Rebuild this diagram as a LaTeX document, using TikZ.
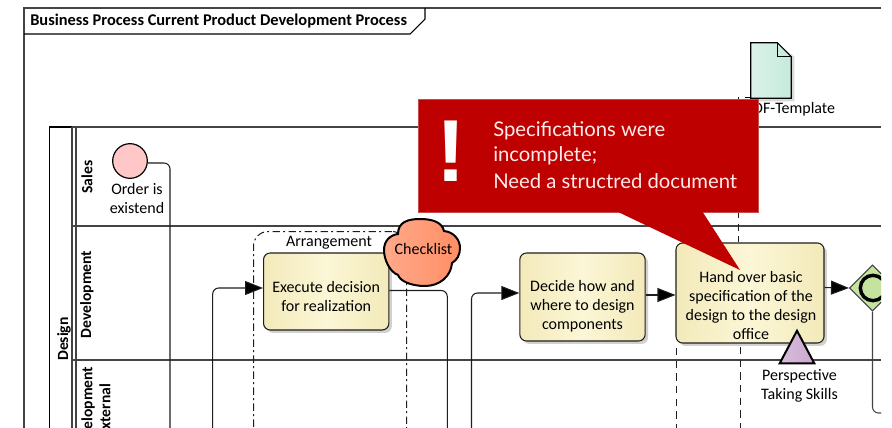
\documentclass[tikz,border=0pt]{standalone}
\usepackage{fontspec}
\setmainfont{Carlito}
\newfontfamily\handfont{Lato}
\newfontfamily\markfont{Liberation Sans}
\usetikzlibrary{arrows.meta,shapes.geometric,shadows,calc}
\definecolor{inkc}{HTML}{1E1E1E}
\definecolor{lanec}{HTML}{444444}
\definecolor{redc}{HTML}{BF0000}
\definecolor{taskside}{HTML}{F3EABA}
\definecolor{taskmid}{HTML}{FBF6D6}
\definecolor{docl}{HTML}{DCF2E9}
\definecolor{docr}{HTML}{C5EADC}
\definecolor{docmid}{HTML}{E9F6F1}
\definecolor{gwfill}{HTML}{C6E29F}
\definecolor{cloudl}{HTML}{FFA98A}
\definecolor{cloudr}{HTML}{FF8E64}
\definecolor{resl}{HTML}{D9BCDC}
\definecolor{resr}{HTML}{C9A8CE}
\tikzset{
  x=0.75pt,y=-0.75pt,
  softshadow/.style={general shadow={fill=black!18,shadow xshift=2.2pt,shadow yshift=-2.2pt}},
  taskbox/.style={draw=inkc,line width=0.8pt,rounded corners=5pt,inner sep=0pt,
    left color=taskside,right color=taskside,middle color=taskmid,softshadow},
  lanerule/.style={draw=lanec,line width=1.15pt},
  lanelabel/.style={rotate=90,font=\fontsize{11.7pt}{13.5pt}\selectfont\bfseries,align=center,inner sep=0pt},
  plainlabel/.style={font=\fontsize{12pt}{14.25pt}\selectfont,align=center,inner sep=0pt},
  flowline/.style={draw=inkc,line width=0.8pt,rounded corners=4.5pt},
  flowarrow/.style={flowline,-{Triangle[length=13.5pt,width=10.5pt,fill=black]}},
  groupdash/.style={draw=inkc,line width=0.75pt,dash pattern=on 5.5pt off 2.5pt on 1.5pt off 2.5pt},
  assocdash/.style={draw=inkc,line width=0.75pt,dash pattern=on 5.5pt off 4pt},
  callouttext/.style={text=red!8!white,font=\handfont\fontsize{15.2pt}{19pt}\selectfont,anchor=west,inner sep=0pt}
}
\begin{document}
\begin{tikzpicture}
\useasboundingbox (0,0) rectangle (892,428);
\fill[white] (0,0) rectangle (892,428);
\begin{scope}
\clip (0,0) rectangle (881,428);
% frame
\draw[lanec,line width=1pt] (881,8) -- (24,8) -- (24,428);
\draw[black,line width=0.8pt] (425,8) -- (425,19) -- (410,34) -- (24,34);
\node[anchor=west,inner sep=0pt,font=\fontsize{12.3pt}{13pt}\selectfont\bfseries] (title) at (30,21) {Business Process Current Product Development Process};
% pool and lanes
\draw[black,line width=0.8pt] (72,127) -- (49.5,127) -- (49.5,428);
\draw[lanec,line width=1.15pt] (72,127) -- (881,127);
\draw[lanec,line width=1.15pt] (72,127) -- (72,428);
\draw[lanec,line width=1.15pt] (76,127) -- (76,428);
\draw[lanerule] (72,226) -- (881,226);
\draw[lanerule] (72,360) -- (881,360);
\node[lanelabel] (design) at (64,339) {Design};
\node[lanelabel] (sales) at (87,177) {Sales};
\node[lanelabel] (dev) at (87,294.5) {Development};
\node[lanelabel] (devext) at (96,410.5) {Development\\external};
% free ends
\coordinate (b1) at (170,440);
\coordinate (b2) at (212.7,440);
\coordinate (b3) at (447.3,440);
\coordinate (b4) at (471.5,440);
\coordinate (b5) at (881,413);
\coordinate (d1a) at (676,348);
\coordinate (d1b) at (676,440);
\coordinate (d2a) at (738,97);
\coordinate (d2c) at (740,347);
\coordinate (d2d) at (740,440);
% group
\node[groupdash,rounded corners=11pt,minimum width=114.75pt,minimum height=210pt,anchor=north west,inner sep=0pt] (grp) at (253,231) {};
\node[plainlabel] (grplabel) at (329,243) {Arrangement};
% start
\node[circle,draw=black,line width=0.9pt,fill=red!22!white,minimum size=26pt,inner sep=0pt] (start) at (130,161) {};
\node[plainlabel] (startlabel) at (137,198.5) {Order is\\existend};
% tasks
\node[taskbox,minimum width=94pt,minimum height=57.75pt] (t1) at (326.2,291.5) {};
\node[plainlabel] (t1label) at (326.2,296.5) {Execute decision\\for realization};
\node[taskbox,minimum width=94pt,minimum height=66pt] (t2) at (582.5,297) {};
\node[plainlabel] (t2label) at (582.5,306) {Decide how and\\where to design\\components};
\node[taskbox,minimum width=111pt,minimum height=75pt] (t3) at (750,293) {};
\node[plainlabel] (t3label) at (751,305) {Hand over basic\\specification of the\\design to the design\\office};
% gateway
\node[diamond,aspect=1,draw=black!75,line width=0.8pt,fill=gwfill,minimum size=34.5pt,inner sep=0pt] (gw) at (872.5,288) {};
\node[circle,draw=black,line width=2.6pt,minimum size=19pt,inner sep=0pt] (gwc) at (873,288) {};
% connectors
\draw[flowline] (start.east) ++(0,2) -| (b1);
\draw[flowarrow] (b2) |- ($(t1.west)+(0,-3.5)$);
\draw[flowline] ($(t1.east)+(0,-1)$) -| (b3);
\draw[flowarrow] (b4) |- ($(t2.west)+(0,-4)$);
\draw[flowarrow] ($(t2.east)+(0,-2)$) -- ($(t3.west)+(0,2)$);
\draw[flowarrow] ($(t3.east)+(0,-5.5)$) -- (gw.west);
\draw[flowline,draw=lanec] (gw.south) |- (b5);
\draw[assocdash] (d1a) -- (d1b);
\draw[assocdash] (d2c) -- (d2d);
% checklist cloud
\path[draw=black,line width=1.5pt,left color=cloudl,right color=cloudr]
  (398,234) .. controls (398,222) and (408,219) .. (420,219)
  .. controls (432,219) and (442,222) .. (444,231)
  .. controls (454,232) and (460,240) .. (460,248)
  .. controls (460,255) and (457,260) .. (452,263)
  .. controls (451,276) and (440,286) .. (425,286)
  .. controls (411,286) and (400,281) .. (398,275)
  .. controls (390,272) and (384,260) .. (384,250)
  .. controls (384,241) and (390,235) .. (398,234) -- cycle;
\node[plainlabel] (cloud) at (423.5,249) {Checklist};
% data object
\node[minimum width=30pt,minimum height=41.25pt,inner sep=0pt] (doc) at (771,70.5) {};
\fill[black!15] ([shift={(3,3)}]doc.north west) -- ([shift={(-11,3)}]doc.north east) -- ([shift={(3,14)}]doc.north east) -- ([shift={(3,3)}]doc.south east) -- ([shift={(3,3)}]doc.south west) -- cycle;
\path[draw=black,line width=0.8pt,left color=docl,middle color=docmid,right color=docr] (doc.north west) -- ([shift={(-14,0)}]doc.north east) -- ([shift={(0,14)}]doc.north east) -- (doc.south east) -- (doc.south west) -- cycle;
\draw[black,line width=0.8pt] ([shift={(-14,0)}]doc.north east) -- ([shift={(-14,14)}]doc.north east) -- ([shift={(0,14)}]doc.north east);
\draw[assocdash] (d2a) -- (t3.north -| d2a);
\draw[black,line width=0.8pt] (745,97.5) -- (doc.south west |- 0,97.5);
\node[plainlabel] (doclabel) at (790,109) {PDF-Template};
% resource triangle
\node[minimum width=25.5pt,minimum height=24pt,inner sep=0pt] (res) at (797,347) {};
\path[draw=black,line width=1.5pt,line join=miter,left color=resl,right color=resr] (res.south west) -- (res.north) -- (res.south east) -- cycle;
\node[plainlabel] (reslabel) at (799.5,385.5) {Perspective\\Taking Skills};
% callout
\node[minimum width=255pt,minimum height=84.75pt,anchor=north west,fill=redc,draw=red!70!black!70!white,line width=0.6pt,inner sep=0pt] (note) at (417.5,99) {};
\fill[redc] (616,211) -- (702,211) -- (740,270) -- cycle;
\node[font=\markfont\bfseries\fontsize{66pt}{66pt}\selectfont,text=white,inner sep=0pt] (bang) at (451,151) {!};
\node[callouttext] (n1) at (493,131) {Specifications were};
\node[callouttext] (n2) at (493,156) {incomplete;};
\node[callouttext] (n3) at (493,181) {Need a structred document};
\end{scope}
\end{tikzpicture}
\end{document}
